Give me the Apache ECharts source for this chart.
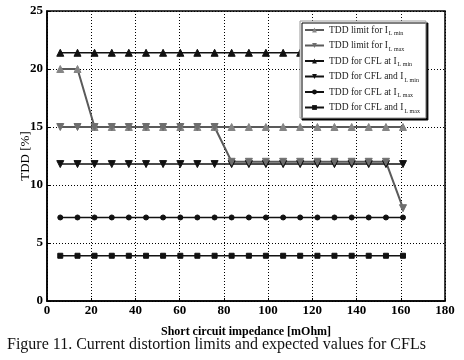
<!DOCTYPE html>
<html>
<head>
<meta charset="utf-8">
<script src="https://cdn.jsdelivr.net/npm/echarts@6/dist/echarts.min.js"></script>
<style>
  html, body { margin: 0; padding: 0; background: #fff; }
  #chart { width: 464px; height: 360px; }
</style>
</head>
<body>
<div id="chart"></div>
<script>
// short circuit impedance [mOhm]
const impedance = [6.0, 13.8, 21.5, 29.3, 37.0, 44.8, 52.5, 60.3, 68.0, 75.8, 83.5,
    91.3, 99.0, 106.8, 114.5, 122.3, 130.0, 137.8, 145.5, 153.3, 161.0];

// TDD [%]
const limitLmin = [20, 20, 15, 15, 15, 15, 15, 15, 15, 15, 15,
    15, 15, 15, 15, 15, 15, 15, 15, 15, 15];
const limitLmax = [15, 15, 15, 15, 15, 15, 15, 15, 15, 15, 12,
    12, 12, 12, 12, 12, 12, 12, 12, 12, 8];
const cflAtLmin = [21.4, 21.4, 21.4, 21.4, 21.4, 21.4, 21.4, 21.4, 21.4, 21.4, 21.4,
    21.4, 21.4, 21.4, 21.4, 21.4, 21.4, 21.4, 21.4, 21.4, 21.4];
const cflAndLmin = [11.8, 11.8, 11.8, 11.8, 11.8, 11.8, 11.8, 11.8, 11.8, 11.8, 11.8,
    11.8, 11.8, 11.8, 11.8, 11.8, 11.8, 11.8, 11.8, 11.8, 11.8];
const cflAtLmax = [7.2, 7.2, 7.2, 7.2, 7.2, 7.2, 7.2, 7.2, 7.2, 7.2, 7.2,
    7.2, 7.2, 7.2, 7.2, 7.2, 7.2, 7.2, 7.2, 7.2, 7.2];
const cflAndLmax = [3.9, 3.9, 3.9, 3.9, 3.9, 3.9, 3.9, 3.9, 3.9, 3.9, 3.9,
    3.9, 3.9, 3.9, 3.9, 3.9, 3.9, 3.9, 3.9, 3.9, 3.9];

const legendOrder = ['TDD limit for I_L min', 'TDD limit for I_L max', 'TDD for CFL at I_L min',
    'TDD for CFL and I_L min', 'TDD for CFL at I_L max', 'TDD for CFL and I_L max'];

const serif = '"Liberation Serif", "DejaVu Serif", serif';
const downTri = 'path://M0,0 L10,0 L5,9 Z';

function pairs(ys) {
    return impedance.map((x, i) => [x, ys[i]]);
}

function makeSeries(name, ys, symbol, size, lineColor, markColor, width) {
    return {
        name: name,
        type: 'line',
        data: pairs(ys),
        symbol: symbol,
        symbolSize: size,
        showSymbol: true,
        lineStyle: { color: lineColor, width: width },
        itemStyle: { color: markColor, borderColor: markColor },
        animation: false
    };
}

const chart = echarts.init(document.getElementById('chart'));

chart.setOption({
    backgroundColor: '#fff',
    title: {
        text: 'Figure 11. Current distortion limits and expected values for CFLs',
        left: 2,
        top: 332,
        textStyle: { fontFamily: serif, fontSize: 16, fontWeight: 'normal', color: '#111' }
    },
    grid: {
        left: 47, right: 19, top: 11, bottom: 59,
        show: true, borderColor: '#000', borderWidth: 1.5
    },
    legend: {
        data: legendOrder,
        orient: 'vertical',
        left: 300,
        top: 21,
        z: 10,
        padding: [4, 6, 4, 4],
        itemGap: 4,
        itemWidth: 19,
        itemHeight: 6,
        backgroundColor: '#fff',
        borderColor: '#999',
        borderWidth: 1,
        shadowColor: '#000',
        shadowBlur: 0,
        shadowOffsetX: 2,
        shadowOffsetY: 2,
        formatter: name => name.replace(/_(.*)$/, '{s|$1}'),
        textStyle: {
            fontFamily: serif, fontSize: 9.5, color: '#222',
            rich: {
                s: { fontFamily: serif, fontSize: 6, color: '#222', padding: [7, 0, 0, 1] }
            }
        }
    },
    xAxis: {
        type: 'value',
        min: 0, max: 180, interval: 20,
        name: 'Short circuit impedance [mOhm]',
        nameLocation: 'middle',
        nameGap: 25,
        nameMoveOverlap: false,
        nameTextStyle: { fontFamily: serif, fontSize: 12, fontWeight: 'bold', color: '#000' },
        axisLine: { lineStyle: { color: '#000', width: 1.5 } },
        axisTick: { show: true, inside: true, length: 3, lineStyle: { color: '#000' } },
        axisLabel: { fontFamily: serif, fontSize: 13, fontWeight: 'bold', color: '#000', margin: 3 },
        splitLine: { show: true, lineStyle: { color: '#000', type: [1, 2], width: 1 } }
    },
    yAxis: {
        type: 'value',
        min: 0, max: 25, interval: 5,
        name: 'TDD [%]',
        nameLocation: 'middle',
        nameGap: 15,
        nameMoveOverlap: false,
        nameTextStyle: { fontFamily: serif, fontSize: 13, color: '#000' },
        axisLine: { lineStyle: { color: '#000', width: 1.5 } },
        axisTick: { show: true, inside: true, length: 3, lineStyle: { color: '#000' } },
        axisLabel: { fontFamily: serif, fontSize: 13, fontWeight: 'bold', color: '#000', margin: 4 },
        splitLine: { show: true, lineStyle: { color: '#000', type: [1, 2], width: 1 } }
    },
    series: [
        makeSeries('TDD for CFL at I_L min', cflAtLmin, 'triangle', 7, '#111', '#111', 1.5),
        makeSeries('TDD for CFL and I_L min', cflAndLmin, downTri, 7, '#111', '#111', 1.5),
        makeSeries('TDD for CFL at I_L max', cflAtLmax, 'circle', 5, '#111', '#111', 1.5),
        makeSeries('TDD for CFL and I_L max', cflAndLmax, 'rect', 5, '#111', '#111', 1.5),
        makeSeries('TDD limit for I_L min', limitLmin, 'triangle', 7, '#5a5a5a', '#858585', 2),
        makeSeries('TDD limit for I_L max', limitLmax, downTri, 7, '#5a5a5a', '#6e6e6e', 2)
    ]
});
</script>
</body>
</html>
